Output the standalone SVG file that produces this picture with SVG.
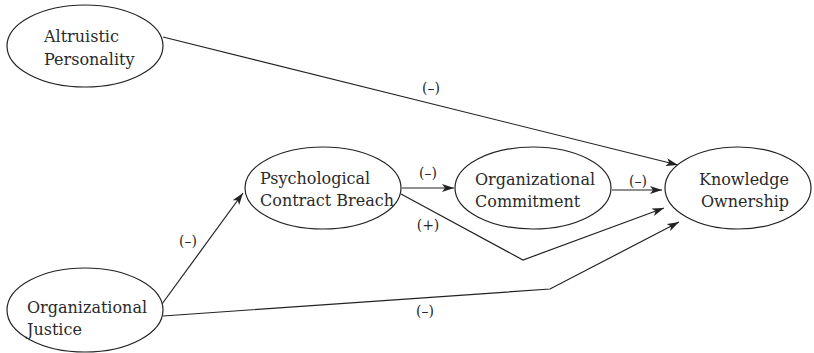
<svg xmlns="http://www.w3.org/2000/svg" width="814" height="353" viewBox="0 0 814 353">
<defs>
<style>
.node ellipse{fill:#fff;stroke:#222;stroke-width:1.2}
.node text{font-family:"DejaVu Serif","Liberation Serif",serif;font-size:16px;fill:#2a2a2a}
.edges path{fill:none;stroke:#222;stroke-width:1.2}
.lbl{font-family:"DejaVu Serif","Liberation Serif",serif;font-size:14px;fill:#2a2a2a;text-anchor:middle}
</style>
<marker id="arr" viewBox="0 0 12 8" refX="12" refY="4" markerWidth="12" markerHeight="8" markerUnits="userSpaceOnUse" orient="auto">
<path d="M0,0 L12,4 L0,8 L3,4 Z" fill="#222"/>
</marker>
</defs>
<rect width="814" height="353" fill="#fff"/>
<g class="edges">
<path d="M163,37 L678,165" marker-end="url(#arr)"/>
<path d="M402,188 L454,188" marker-end="url(#arr)"/>
<path d="M612,190 L662,190" marker-end="url(#arr)"/>
<path d="M401,194 L523,260 L664,208" marker-end="url(#arr)"/>
<path d="M162,304 L243,193" marker-end="url(#arr)"/>
<path d="M163,316 L550,289 L679,222" marker-end="url(#arr)"/>
</g>
<g class="labels">
<text class="lbl" x="431" y="93">(–)</text>
<text class="lbl" x="428" y="178">(–)</text>
<text class="lbl" x="638" y="186">(–)</text>
<text class="lbl" x="428" y="230">(+)</text>
<text class="lbl" x="188" y="246">(–)</text>
<text class="lbl" x="425" y="316">(–)</text>
</g>
<g id="altruistic" class="node">
<ellipse cx="85" cy="46" rx="78" ry="41"/>
<text x="44" y="42">Altruistic</text>
<text x="44" y="65">Personality</text>
</g>
<g id="justice" class="node">
<ellipse cx="85" cy="310" rx="78" ry="42"/>
<text x="27" y="313">Organizational</text>
<text x="27" y="335">Justice</text>
</g>
<g id="breach" class="node">
<ellipse cx="323" cy="188" rx="78" ry="41"/>
<text x="260" y="184">Psychological</text>
<text x="260" y="206">Contract Breach</text>
</g>
<g id="commitment" class="node">
<ellipse cx="533" cy="188" rx="78" ry="41"/>
<text x="475" y="185">Organizational</text>
<text x="475" y="207">Commitment</text>
</g>
<g id="ownership" class="node">
<ellipse cx="738" cy="188" rx="73" ry="41"/>
<text x="744" y="185" text-anchor="middle">Knowledge</text>
<text x="745" y="207" text-anchor="middle">Ownership</text>
</g>
</svg>
